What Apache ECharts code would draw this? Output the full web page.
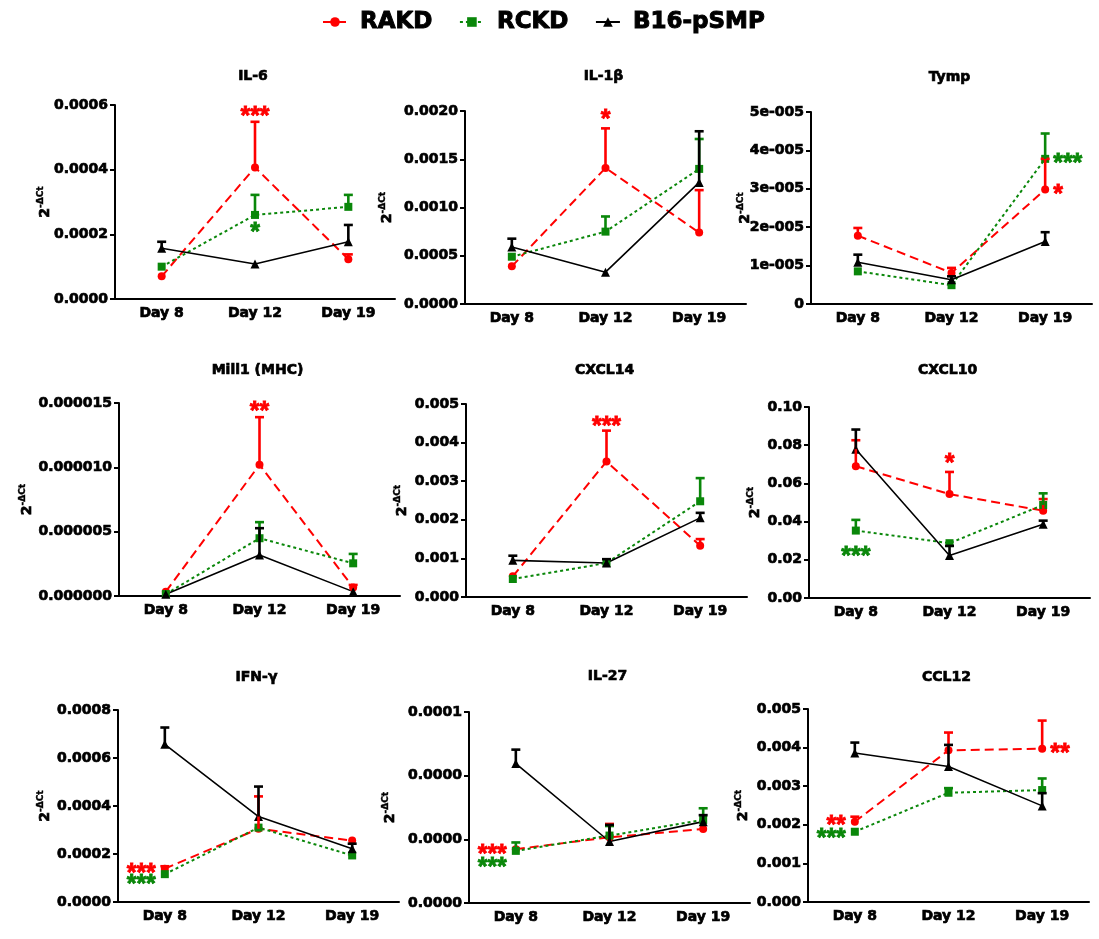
<!DOCTYPE html>
<html><head><meta charset="utf-8">
<script src="https://cdn.jsdelivr.net/npm/echarts@6/dist/echarts.min.js"></script>
<style>html,body{margin:0;padding:0;background:#fff}#c{width:1099px;height:939px}</style>
</head><body><div id="c"></div>
<script>
// ---------------- DATA ----------------
const categories = ['Day 8', 'Day 12', 'Day 19'];
const groups = ['RAKD', 'RCKD', 'B16-pSMP'];
const panelTitles = ['IL-6', 'IL-1β', 'Tymp', 'Mill1 (MHC)', 'CXCL14', 'CXCL10', 'IFN-γ', 'IL-27', 'CCL12'];

// rows: RAKD, RCKD, B16-pSMP ; columns: Day 8, Day 12, Day 19
const IL6_mean = [[0.000070, 0.000407, 0.000123], [0.000100, 0.000260, 0.000285], [0.000157, 0.000108, 0.000177]];
const IL6_sem  = [[0, 0.000141, 0.000015], [0, 0.000062, 0.000037], [0.000020, 0, 0.000052]];
const IL1B_mean = [[0.00039, 0.00141, 0.00074], [0.00049, 0.00075, 0.00140], [0.00059, 0.00033, 0.00126]];
const IL1B_sem  = [[0, 0.00041, 0.00044], [0, 0.000157, 0.00031], [0.000087, 0, 0.00053]];
const TYMP_mean = [[1.78e-5, 0.81e-5, 2.98e-5], [0.85e-5, 0.49e-5, 3.78e-5], [1.085e-5, 0.63e-5, 1.63e-5]];
const TYMP_sem  = [[0.20e-5, 0.13e-5, 0.80e-5], [0, 0, 0.66e-5], [0.20e-5, 0.09e-5, 0.24e-5]];
const MILL1_mean = [[3.4e-7, 1.02e-5, 6.7e-7], [1.5e-7, 4.49e-6, 2.54e-6], [1.3e-7, 3.19e-6, 3.4e-7]];
const MILL1_sem  = [[0, 3.7e-6, 1.9e-7], [0, 1.25e-6, 7.3e-7], [0, 2.08e-6, 0]];
const CXCL14_mean = [[0.000535, 0.00351, 0.00133], [0.000466, 0.00088, 0.00248], [0.00095, 0.00088, 0.00205]];
const CXCL14_sem  = [[0, 0.0008, 0.00017], [0, 0, 0.0006], [0.00012, 0.0001, 0.00013]];
const CXCL10_mean = [[0.069, 0.0544, 0.0457], [0.0353, 0.0287, 0.0487], [0.0779, 0.0223, 0.0386]];
const CXCL10_sem  = [[0.0136, 0.0116, 0.0061], [0.0056, 0, 0.0061], [0.0103, 0.005, 0.0019]];
const IFNG_mean = [[0.000139, 0.000305, 0.000256], [0.000116, 0.000310, 0.000194], [0.000657, 0.000356, 0.000222]];
const IFNG_sem  = [[0.00001, 0.000135, 0], [0, 0, 0], [0.00007, 0.000125, 0.000021]];
const IL27_mean = [[2.82e-5, 3.44e-5, 3.88e-5], [2.73e-5, 3.53e-5, 4.35e-5], [7.3e-5, 3.22e-5, 4.26e-5]];
const IL27_sem  = [[0, 0.7e-5, 0], [0.44e-5, 0.5e-5, 0.61e-5], [0.73e-5, 0.87e-5, 0.34e-5]];
const CCL12_mean = [[0.00208, 0.00393, 0.00397], [0.00182, 0.00283, 0.00290], [0.00386, 0.00351, 0.00249]];
const CCL12_sem  = [[0.00013, 0.00046, 0.00073], [0, 0.00012, 0.0003], [0.00027, 0.00056, 0.00033]];

// y-axis tick labels (bottom to top) and axis maxima
const IL6_ticks = ['0.0000', '0.0002', '0.0004', '0.0006'];
const IL1B_ticks = ['0.0000', '0.0005', '0.0010', '0.0015', '0.0020'];
const TYMP_ticks = ['0', '1e-005', '2e-005', '3e-005', '4e-005', '5e-005'];
const MILL1_ticks = ['0.000000', '0.000005', '0.000010', '0.000015'];
const CXCL14_ticks = ['0.000', '0.001', '0.002', '0.003', '0.004', '0.005'];
const CXCL10_ticks = ['0.00', '0.02', '0.04', '0.06', '0.08', '0.10'];
const IFNG_ticks = ['0.0000', '0.0002', '0.0004', '0.0006', '0.0008'];
const IL27_ticks = ['0.0000', '0.0000', '0.0000', '0.0001'];
const CCL12_ticks = ['0.000', '0.001', '0.002', '0.003', '0.004', '0.005'];
const yMax = [0.0006, 0.0020, 5e-5, 1.5e-5, 0.005, 0.10, 0.0008, 0.0001, 0.005];

// significance marks: [day index, value, text, group index, side]
const IL6_stars = [[1, 0.00058, '***', 0, 'above'], [1, 0.00022, '*', 1, 'above']];
const IL1B_stars = [[1, 0.00196, '*', 0, 'above']];
const TYMP_stars = [[2, 3.78e-5, '***', 1, 'right'], [2, 2.98e-5, '*', 0, 'right']];
const MILL1_stars = [[1, 1.47e-5, '**', 0, 'above']];
const CXCL14_stars = [[1, 0.00455, '***', 0, 'above']];
const CXCL10_stars = [[1, 0.073, '*', 0, 'above'], [0, 0.0243, '***', 1, 'above']];
const IFNG_stars = [[0, 0.000139, '***', 0, 'left'], [0, 0.000093, '***', 1, 'left']];
const IL27_stars = [[0, 2.82e-5, '***', 0, 'left'], [0, 2.14e-5, '***', 1, 'left']];
const CCL12_stars = [[0, 0.00211, '**', 0, 'left'], [0, 0.00178, '***', 1, 'left'], [2, 0.00397, '**', 0, 'right']];

const means = [IL6_mean, IL1B_mean, TYMP_mean, MILL1_mean, CXCL14_mean, CXCL10_mean, IFNG_mean, IL27_mean, CCL12_mean];
const sems = [IL6_sem, IL1B_sem, TYMP_sem, MILL1_sem, CXCL14_sem, CXCL10_sem, IFNG_sem, IL27_sem, CCL12_sem];
const ticks = [IL6_ticks, IL1B_ticks, TYMP_ticks, MILL1_ticks, CXCL14_ticks, CXCL10_ticks, IFNG_ticks, IL27_ticks, CCL12_ticks];
const stars = [IL6_stars, IL1B_stars, TYMP_stars, MILL1_stars, CXCL14_stars, CXCL10_stars, IFNG_stars, IL27_stars, CCL12_stars];

// ---------------- LAYOUT / STYLE ----------------
const FONT = '"DejaVu Sans", "Liberation Sans", sans-serif';
const colors = ['#ff0000', '#0a870a', '#000000'];
const symbols = ['circle', 'rect', 'triangle'];
const lineTypes = [[9, 5], [3, 3], 'solid'];
const boxes = [
  [115, 105, 280, 194], [465, 111, 281, 193], [811, 112, 281, 192],
  [119, 403, 281, 193], [466, 404, 281, 193], [809, 407, 281, 191],
  [118, 710, 281, 192], [469, 712, 281, 191], [808, 709, 281, 193]
];
const nameGaps = [63, 71, 59, 85, 57, 47, 66, 72, 58];
const titleY = [71, 71, 72, 365, 365, 365, 672, 671, 672];
const heavy = {textBorderColor: '#000', textBorderWidth: 0.7};

const grid = [], xAxis = [], yAxis = [], title = [], series = [];

boxes.forEach((b, pi) => {
  grid.push({left: b[0], top: b[1], width: b[2], height: b[3], containLabel: false, outerBoundsMode: 'none'});
  title.push({
    text: panelTitles[pi], left: b[0] + b[2] / 2 - 7, top: titleY[pi],
    textAlign: 'center', textVerticalAlign: 'middle',
    textStyle: Object.assign({fontFamily: FONT, fontWeight: 'bold', fontSize: 14, color: '#000'}, heavy)
  });
  xAxis.push({
    type: 'category', gridIndex: pi, data: categories, boundaryGap: true,
    axisLine: {lineStyle: {color: '#000', width: 2}},
    axisTick: {alignWithLabel: true, length: 5, lineStyle: {color: '#000', width: 2}},
    axisLabel: Object.assign({color: '#000', fontFamily: FONT, fontWeight: 'bold', fontSize: 14, margin: 7}, heavy),
    splitLine: {show: false}
  });
  const tk = ticks[pi];
  const interval = yMax[pi] / (tk.length - 1);
  yAxis.push({
    type: 'value', gridIndex: pi, min: 0, max: yMax[pi], interval: interval,
    name: '{n|2}{s|-ΔCt}', nameLocation: 'middle', nameGap: nameGaps[pi], nameRotate: 90,
    nameMoveOverlap: false,
    nameTextStyle: {
      color: '#000',
      rich: {
        n: Object.assign({fontFamily: FONT, fontWeight: 'bold', fontSize: 14, color: '#000', lineHeight: 16, verticalAlign: 'bottom'}, heavy),
        s: {fontFamily: FONT, fontWeight: 'bold', fontSize: 9, color: '#000', lineHeight: 16, verticalAlign: 'top', textBorderColor: '#000', textBorderWidth: 0.4}
      }
    },
    axisLine: {show: true, lineStyle: {color: '#000', width: 2}},
    axisTick: {show: true, length: 5, lineStyle: {color: '#000', width: 2}},
    axisLabel: Object.assign({
      color: '#000', fontFamily: FONT, fontWeight: 'bold', fontSize: 14, margin: 7,
      formatter: (v) => tk[Math.round(v / interval)]
    }, heavy),
    splitLine: {show: false}
  });

  // lines
  groups.forEach((g, gi) => {
    series.push({
      type: 'line', name: g, xAxisIndex: pi, yAxisIndex: pi,
      data: means[pi][gi], symbol: symbols[gi], symbolSize: gi === 2 ? 9 : 8,
      itemStyle: {color: colors[gi]},
      lineStyle: {color: colors[gi], width: gi === 2 ? 1.6 : 2, type: lineTypes[gi]},
      z: 3, animation: false
    });
  });
  // error bars (upper only)
  groups.forEach((g, gi) => {
    series.push({
      type: 'custom', xAxisIndex: pi, yAxisIndex: pi, silent: true, clip: false, z: 4,
      data: means[pi][gi].map((m, ci) => [ci, m, sems[pi][gi][ci]]),
      encode: {x: 0, y: 1},
      renderItem: (params, api) => {
        const x = api.value(0), y = api.value(1), e = api.value(2);
        if (!e) return null;
        const p0 = api.coord([x, y]);
        const p1 = api.coord([x, y + e]);
        const hw = 4.5;
        const st = {stroke: colors[gi], lineWidth: 2.6};
        return {type: 'group', children: [
          {type: 'line', shape: {x1: p0[0], y1: p0[1], x2: p1[0], y2: p1[1]}, style: st},
          {type: 'line', shape: {x1: p1[0] - hw, y1: p1[1], x2: p1[0] + hw, y2: p1[1]}, style: st}
        ]};
      },
      animation: false
    });
  });
  // significance stars
  const st = stars[pi];
  series.push({
    type: 'custom', xAxisIndex: pi, yAxisIndex: pi, silent: true, clip: false, z: 6,
    data: st.map(s => [s[0], s[1]]),
    encode: {x: 0, y: 1},
    renderItem: (params, api) => {
      const s = st[params.dataIndex];
      const p = api.coord([api.value(0), api.value(1)]);
      const fs = 25;
      let x = p[0], align = 'center';
      if (s[4] === 'left') { x = p[0] - 9; align = 'right'; }
      else if (s[4] === 'right') { x = p[0] + 8; align = 'left'; }
      return {type: 'text', x: x, y: p[1] + 0.22 * fs,
        style: {text: s[2], fill: colors[s[3]], font: 'bold ' + fs + 'px "Liberation Sans", Arial, sans-serif',
          align: align, verticalAlign: 'middle', stroke: colors[s[3]], lineWidth: 0.8}};
    },
    animation: false
  });
});

const chart = echarts.init(document.getElementById('c'), null, {renderer: 'canvas'});
chart.setOption({
  backgroundColor: '#fff',
  animation: false,
  title: title,
  legend: {
    data: groups, left: 317, top: 5, itemWidth: 24, itemHeight: 12, itemGap: 26,
    textStyle: {fontFamily: FONT, fontWeight: 'bold', fontSize: 23, color: '#000', padding: [0, 0, 0, 8],
      textBorderColor: '#000', textBorderWidth: 1}
  },
  grid: grid, xAxis: xAxis, yAxis: yAxis, series: series
});
</script></body></html>
